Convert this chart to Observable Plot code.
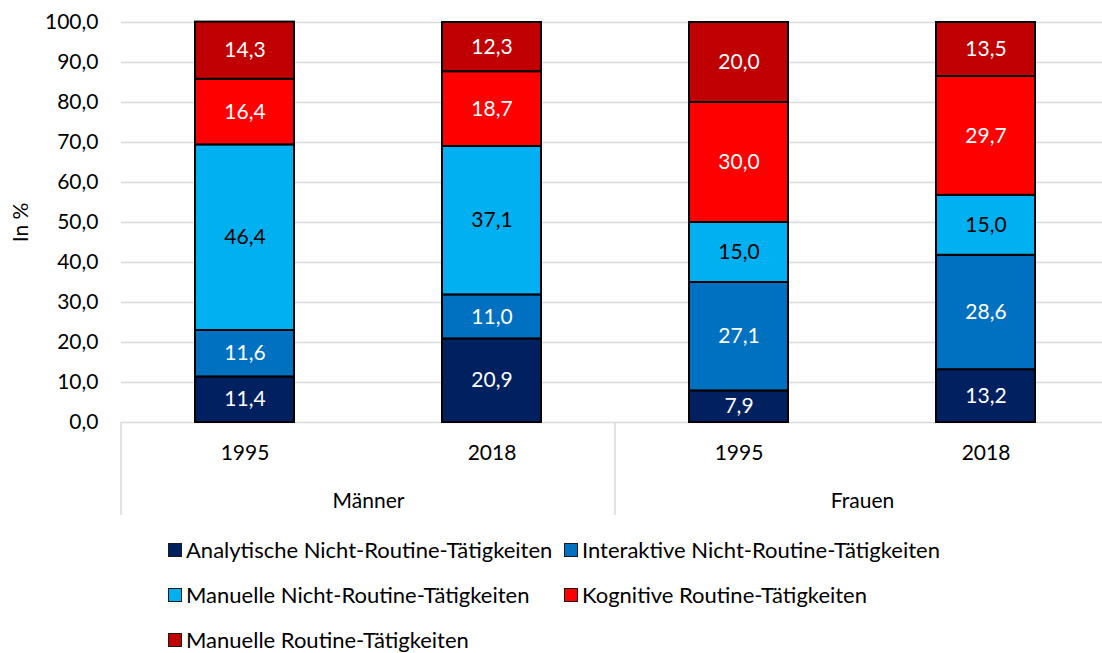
<!DOCTYPE html>
<html><head><meta charset="utf-8">
<script src="https://cdn.jsdelivr.net/npm/d3@7"></script>
<script src="https://cdn.jsdelivr.net/npm/@observablehq/plot@0.6"></script>
<style>
html,body{margin:0;padding:0;background:#fff;overflow:hidden;font-family:Lato,sans-serif;}
#chart{width:1109px}
#chart svg{display:block;overflow:visible;max-width:none !important;height:520px !important}
#legend{display:grid;grid-template-columns:396px auto;grid-auto-rows:45px;padding-left:168px;margin-top:7px;font-size:22px;line-height:26px;color:#000;width:900px}
.item{display:flex;align-items:center;white-space:nowrap}
.sw{width:12px;height:12px;border:1px solid #1a1a1a;margin-right:4px;flex:none}
</style></head><body><div id="chart"></div><div id="legend"></div>
<script>
const categories = [
  "Analytische Nicht-Routine-Tätigkeiten",
  "Interaktive Nicht-Routine-Tätigkeiten",
  "Manuelle Nicht-Routine-Tätigkeiten",
  "Kognitive Routine-Tätigkeiten",
  "Manuelle Routine-Tätigkeiten"
];
const groups = ["Männer", "Frauen"];
const years = ["1995", "2018"];
const maenner1995 = [11.4, 11.6, 46.4, 16.4, 14.3];
const maenner2018 = [20.9, 11.0, 37.1, 18.7, 12.3];
const frauen1995 = [7.9, 27.1, 15.0, 30.0, 20.0];
const frauen2018 = [13.2, 28.6, 15.0, 29.7, 13.5];
const yTicks = [0, 10, 20, 30, 40, 50, 60, 70, 80, 90, 100];
const colors = ["#002060", "#0070C0", "#00B0F0", "#FF0000", "#C00000"];
const labelColors = ["#ffffff", "#ffffff", "#000000", "#ffffff", "#ffffff"];

const series = [
  {group: "Männer", year: "1995", values: maenner1995},
  {group: "Männer", year: "2018", values: maenner2018},
  {group: "Frauen", year: "1995", values: frauen1995},
  {group: "Frauen", year: "2018", values: frauen2018}
];
const data = series.flatMap(s => s.values.map((v, i) => ({group: s.group, year: s.year, cat: categories[i], value: v})));

const de = d3.formatLocale({decimal: ",", thousands: ".", grouping: [3], currency: ["", "€"]});
const fmt = de.format(".1f");

const plot = Plot.plot({
  width: 1109,
  height: 520,
  marginLeft: 121,
  marginRight: 0,
  marginTop: 22,
  marginBottom: 98,
  style: {fontFamily: "Lato, sans-serif", fontSize: "21px", color: "#000", background: "#fff"},
  fx: {domain: groups, padding: 0},
  x: {domain: years, paddingInner: 0.6, paddingOuter: 0.3},
  y: {domain: [0, 100]},
  color: {domain: categories, range: colors},
  marks: [
    Plot.ruleY(yTicks, {y: d => d, stroke: "#d9d9d9", strokeWidth: 1.5}),
    Plot.barY(data, Plot.stackY({fx: "group", x: "year", y: "value", z: "cat", order: categories, fill: "cat", stroke: "#000", strokeWidth: 2})),
    Plot.text(data, Plot.stackY({fx: "group", x: "year", y: "value", z: "cat", order: categories, text: d => fmt(d.value), fill: d => labelColors[categories.indexOf(d.cat)], fontSize: 21})),
    Plot.axisY({ticks: yTicks, tickSize: 0, tickPadding: 23, tickFormat: fmt, fontSize: 21, label: "In %", labelAnchor: "center", labelArrow: "none", labelOffset: 108}),
    Plot.axisX({anchor: "bottom", tickSize: 0, tickPadding: 23, fontSize: 21, label: null}),
    Plot.axisFx({anchor: "bottom", tickSize: 0, tickPadding: 71, fontSize: 21, label: null})
  ]
});
document.getElementById("chart").appendChild(plot);

// group divider lines (Excel multi-level category axis)
const fxs = plot.scale("fx");
const ys = plot.scale("y");
const svg = d3.select(plot);
const y0 = ys.apply(0);
const bw = fxs.bandwidth;
const edges = groups.map(g => fxs.apply(g)).concat([fxs.apply(groups[groups.length - 1]) + bw]);
edges.forEach(xp => {
  svg.append("line").attr("x1", xp).attr("x2", xp).attr("y1", y0).attr("y2", y0 + 93)
    .attr("stroke", "#d9d9d9").attr("stroke-width", 1.5);
});

const legend = document.getElementById("legend");
categories.forEach((c, i) => {
  const it = document.createElement("div");
  it.className = "item";
  const sw = document.createElement("span");
  sw.className = "sw";
  sw.style.background = colors[i];
  it.appendChild(sw);
  it.appendChild(document.createTextNode(c));
  legend.appendChild(it);
});
</script></body></html>
